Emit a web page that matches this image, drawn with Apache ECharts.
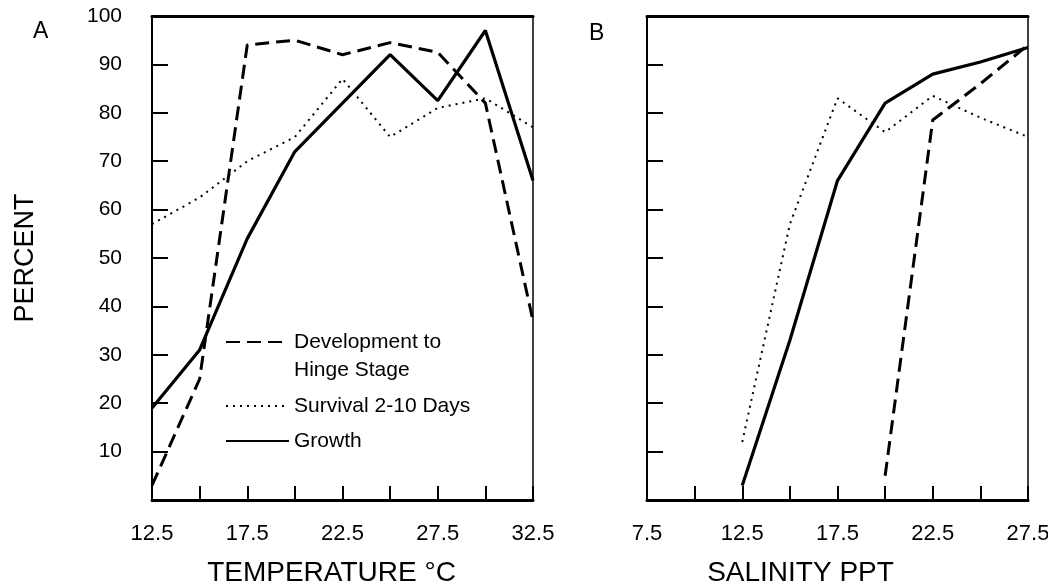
<!DOCTYPE html>
<html>
<head>
<meta charset="utf-8">
<script src="https://cdn.jsdelivr.net/npm/echarts@6/dist/echarts.min.js"></script>
<style>
html,body{margin:0;padding:0;background:#fff;}
#c{width:1048px;height:587px;}
</style>
</head>
<body>
<div id="c"></div>
<script>
// ---- data ----
const tempX = [12.5, 15, 17.5, 20, 22.5, 25, 27.5, 30, 32.5];
const tempDev = [3, 25, 94, 95, 92, 94.5, 92.5, 82, 37];
const tempSurv = [57, 62.5, 70, 75, 87, 75, 81, 83, 77];
const tempGrowth = [19, 31, 54, 72, 82, 92, 82.5, 97, 66];

const salX = [12.5, 15, 17.5, 20, 22.5, 25, 27.5];
const salDev = [null, null, null, 5, 78.5, 86, 94];
const salSurv = [12, 57, 83, 76, 83.5, 79, 75];
const salGrowth = [3, 33, 66, 82, 88, 90.5, 93.5];

const nameDev = 'Development to Hinge Stage';
const nameSurv = 'Survival 2-10 Days';
const nameGrowth = 'Growth';

const FONT = 'Liberation Sans';

function pairs(xs, ys) {
  const out = [];
  for (let i = 0; i < xs.length; i++) if (ys[i] !== null) out.push([xs[i], ys[i]]);
  return out;
}

const devStyle = { color: '#000', width: 3, type: [14, 7] };
const survStyle = { color: '#000', width: 2, type: [2, 5] };
const growthStyle = { color: '#000', width: 3.2, type: 'solid' };

function lineSeries(name, data, style, xi, yi) {
  return {
    type: 'line', name: name, data: data, xAxisIndex: xi, yAxisIndex: yi,
    symbol: 'none', lineStyle: style, itemStyle: { color: '#000' },
    silent: true, animation: false
  };
}

function xBottom(gridIndex, min, max, name, shift) {
  return {
    type: 'value', gridIndex: gridIndex, position: 'bottom', min: min, max: max, interval: 2.5,
    axisLine: { show: true, onZero: false, lineStyle: { color: '#000', width: 3 } },
    axisTick: { show: true, inside: true, length: 14, lineStyle: { color: '#000', width: 2 } },
    axisLabel: {
      margin: 23, color: '#000', fontSize: 22, fontFamily: FONT,
      formatter: function (v) { return ((v - min) % 5 === 0) ? v.toFixed(1) : ''; }
    },
    splitLine: { show: false },
    name: name, nameLocation: 'middle', nameGap: 59,
    nameTextStyle: { fontSize: 28, color: '#000', fontFamily: FONT, padding: [0, shift, 0, 0] }
  };
}
function xTop(gridIndex, min, max) {
  return {
    type: 'value', gridIndex: gridIndex, position: 'top', min: min, max: max,
    axisLine: { show: true, onZero: false, lineStyle: { color: '#000', width: 3 } },
    axisTick: { show: false }, axisLabel: { show: false }, splitLine: { show: false }
  };
}
function yLeft(gridIndex, showLabels, name) {
  const ax = {
    type: 'value', gridIndex: gridIndex, position: 'left', min: 0, max: 100, interval: 10,
    axisLine: { show: true, onZero: false, lineStyle: { color: '#000', width: 2 } },
    axisTick: { show: true, inside: true, length: 16, lineStyle: { color: '#000', width: 2 } },
    axisLabel: {
      show: showLabels, margin: 30, color: '#000', fontSize: 21, fontFamily: FONT,
      formatter: function (v) { return v === 0 ? '' : String(v); }
    },
    splitLine: { show: false }
  };
  if (name) {
    ax.name = name; ax.nameLocation = 'middle'; ax.nameGap = 113;
    ax.nameTextStyle = { fontSize: 27, color: '#000', fontFamily: FONT };
  }
  return ax;
}
function yRight(gridIndex) {
  return {
    type: 'value', gridIndex: gridIndex, position: 'right', min: 0, max: 100,
    axisLine: { show: true, onZero: false, lineStyle: { color: '#000', width: 1.5 } },
    axisTick: { show: false }, axisLabel: { show: false }, splitLine: { show: false }
  };
}

function legendItem(name, text, top) {
  return {
    data: [name], left: 225, top: top, orient: 'vertical', padding: 0,
    itemWidth: 63, itemHeight: 14, itemGap: 0, selectedMode: false,
    itemStyle: { opacity: 0, color: 'rgba(0,0,0,0)', borderWidth: 0 },
    formatter: function () { return text; },
    textStyle: { fontSize: 21, lineHeight: 28, color: '#000', fontFamily: FONT }
  };
}

const chart = echarts.init(document.getElementById('c'), null, { renderer: 'canvas' });
chart.setOption({
  backgroundColor: '#fff',
  animation: false,
  textStyle: { fontFamily: FONT },
  title: [
    { text: 'A', left: 33, top: 20, padding: 0, textStyle: { fontSize: 23, fontWeight: 'normal', color: '#000', fontFamily: FONT } },
    { text: 'B', left: 589, top: 22, padding: 0, textStyle: { fontSize: 23, fontWeight: 'normal', color: '#000', fontFamily: FONT } }
  ],
  grid: [
    { left: 152, top: 16, width: 381, height: 484, containLabel: false, outerBoundsMode: 'none' },
    { left: 647, top: 16, width: 381, height: 484, containLabel: false, outerBoundsMode: 'none' }
  ],
  xAxis: [
    xBottom(0, 12.5, 32.5, 'TEMPERATURE \u00B0C', 22),
    xTop(0, 12.5, 32.5),
    xBottom(1, 7.5, 27.5, 'SALINITY PPT', 74),
    xTop(1, 7.5, 27.5)
  ],
  yAxis: [
    yLeft(0, true, 'PERCENT'),
    yRight(0),
    yLeft(1, false, null),
    yRight(1)
  ],
  legend: [
    legendItem(nameDev, ' \nDevelopment to\nHinge Stage', 300),
    legendItem(nameSurv, 'Survival 2-10 Days', 392),
    legendItem(nameGrowth, 'Growth', 427)
  ],
  series: [
    lineSeries(nameDev, pairs(tempX, tempDev), devStyle, 0, 0),
    lineSeries(nameSurv, pairs(tempX, tempSurv), survStyle, 0, 0),
    lineSeries(nameGrowth, pairs(tempX, tempGrowth), growthStyle, 0, 0),
    lineSeries(nameDev, pairs(salX, salDev), devStyle, 2, 2),
    lineSeries(nameSurv, pairs(salX, salSurv), survStyle, 2, 2),
    lineSeries(nameGrowth, pairs(salX, salGrowth), growthStyle, 2, 2)
  ]
});
</script>
</body>
</html>
